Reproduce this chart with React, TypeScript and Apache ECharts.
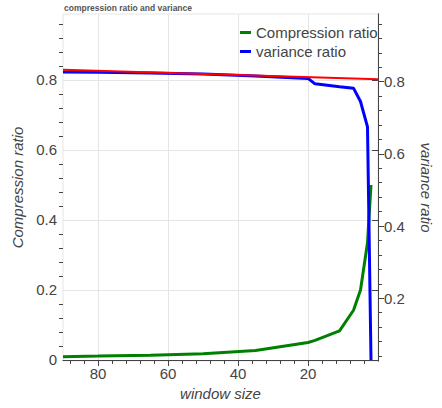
import React, { useEffect, useRef } from "react";
import * as echarts from "echarts";

const windowSizes = [90, 80, 65, 50, 35, 20, 18, 11, 7, 5, 3, 2];
const compressionRatio = [0.0095, 0.011, 0.0135, 0.018, 0.027, 0.05, 0.056, 0.083, 0.142, 0.2, 0.335, 0.5];
const varianceRatio = [0.827, 0.826, 0.824, 0.821, 0.816, 0.809, 0.794, 0.786, 0.782, 0.745, 0.675, 0.029];
const refX = [90, 0];
const refY = [0.829, 0.802];

const xMajor = [20, 40, 60, 80];
const xMinor = [4, 8, 12, 16, 24, 28, 32, 36, 44, 48, 52, 56, 64, 68, 72, 76, 84, 88];
const yLeftMajor = [0, 0.2, 0.4, 0.6, 0.8];
const yRightMajor = [0.2, 0.4, 0.6, 0.8];
const yMinor = [0.04, 0.08, 0.12, 0.16, 0.24, 0.28, 0.32, 0.36, 0.44, 0.48, 0.52, 0.56, 0.64, 0.68, 0.72, 0.76, 0.84, 0.88, 0.92, 0.96];

const FONT = "'Liberation Sans', Arial, Helvetica, sans-serif";
const TXT = "#444444";

export default function App() {
  const ref = useRef<HTMLDivElement>(null);
  useEffect(() => {
    if (!ref.current) return;
    const chart = echarts.init(ref.current, undefined, { renderer: "svg" });
    const zip = (xs: number[], ys: number[]) => xs.map((x, i) => [x, ys[i]]);
    const tickLine = { color: TXT, width: 1 };
    chart.setOption({
      animation: false,
      textStyle: { fontFamily: FONT },
      title: {
        text: "compression ratio and variance",
        left: 64,
        top: 3,
        padding: 0,
        textStyle: { fontSize: 8.5, fontWeight: "bold", color: "#555555", fontFamily: FONT },
      },
      legend: {
        data: ["Compression ratio", "variance ratio"],
        orient: "vertical",
        left: 240,
        top: 25,
        padding: 0,
        itemWidth: 11,
        itemHeight: 3,
        itemGap: 4,
        icon: "rect",
        textStyle: { fontSize: 15, color: TXT, fontFamily: FONT },
      },
      grid: {
        left: 63,
        top: 14,
        width: 328,
        height: 347,
        show: true,
        borderColor: "#e5e5e5",
        borderWidth: 1,
        backgroundColor: "transparent",
      },
      xAxis: [
        {
          type: "value",
          inverse: true,
          min: 0,
          max: 90,
          position: "bottom",
          name: "window size",
          nameLocation: "middle",
          nameGap: 24,
          nameTextStyle: { fontSize: 15, fontStyle: "italic", color: TXT, fontFamily: FONT },
          axisLine: { show: true, lineStyle: tickLine },
          axisTick: { show: true, length: 6, customValues: xMajor, lineStyle: tickLine },
          axisLabel: { customValues: xMajor, fontSize: 15, color: TXT, margin: 5, fontFamily: FONT },
          splitLine: { show: true, lineStyle: { color: "#e5e5e5", width: 1 } },
        },
        {
          type: "value",
          inverse: true,
          min: 0,
          max: 90,
          position: "bottom",
          axisLine: { show: false },
          axisTick: { show: true, length: 4, customValues: xMinor, lineStyle: tickLine },
          axisLabel: { show: false },
          splitLine: { show: false },
        },
      ],
      yAxis: [
        {
          type: "value",
          min: -0.003,
          max: 0.9886,
          position: "left",
          name: "Compression ratio",
          nameLocation: "middle",
          nameGap: 29,
          nameRotate: 90,
          nameTextStyle: { fontSize: 15, fontStyle: "italic", color: TXT, fontFamily: FONT },
          axisLine: { show: true, lineStyle: tickLine },
          axisTick: { show: true, length: 6, customValues: yLeftMajor, lineStyle: tickLine },
          axisLabel: { customValues: yLeftMajor, fontSize: 15, color: TXT, margin: 6, fontFamily: FONT },
          splitLine: { show: true, lineStyle: { color: "#e5e5e5", width: 1 } },
        },
        {
          type: "value",
          min: 0.026,
          max: 0.9875,
          position: "right",
          name: "variance ratio",
          nameLocation: "middle",
          nameGap: 41,
          nameRotate: -90,
          nameTextStyle: { fontSize: 15, fontStyle: "italic", color: TXT, fontFamily: FONT },
          axisLine: { show: true, lineStyle: tickLine },
          axisTick: { show: true, length: 6, customValues: yRightMajor, lineStyle: tickLine },
          axisLabel: { customValues: yRightMajor, fontSize: 15, color: TXT, margin: 6, fontFamily: FONT },
          splitLine: { show: false },
        },
        {
          type: "value",
          min: -0.003,
          max: 0.9886,
          position: "left",
          axisLine: { show: false },
          axisTick: { show: true, length: 4, customValues: yMinor, lineStyle: tickLine },
          axisLabel: { show: false },
          splitLine: { show: false },
        },
        {
          type: "value",
          min: 0.026,
          max: 0.9875,
          position: "right",
          axisLine: { show: false },
          axisTick: { show: true, length: 4, customValues: yMinor.filter((v) => v > 0.026), lineStyle: tickLine },
          axisLabel: { show: false },
          splitLine: { show: false },
        },
      ],
      series: [
        {
          name: "Compression ratio",
          type: "line",
          xAxisIndex: 0,
          yAxisIndex: 0,
          data: zip(windowSizes, compressionRatio),
          showSymbol: false,
          symbol: "none",
          lineStyle: { color: "#008000", width: 3 },
          itemStyle: { color: "#008000" },
        },
        {
          name: "variance ratio",
          type: "line",
          xAxisIndex: 0,
          yAxisIndex: 1,
          data: zip(windowSizes, varianceRatio),
          showSymbol: false,
          symbol: "none",
          lineStyle: { color: "#0000ff", width: 3 },
          itemStyle: { color: "#0000ff" },
        },
        {
          name: "reference",
          type: "line",
          xAxisIndex: 0,
          yAxisIndex: 0,
          data: zip(refX, refY),
          showSymbol: false,
          symbol: "none",
          lineStyle: { color: "#ff0000", width: 2 },
          itemStyle: { color: "#ff0000" },
        },
      ],
    });
    return () => chart.dispose();
  }, []);
  return (
    <div
      ref={ref}
      style={{ position: "absolute", left: 0, top: 0, width: 442, height: 408, background: "#fff" }}
    />
  );
}
